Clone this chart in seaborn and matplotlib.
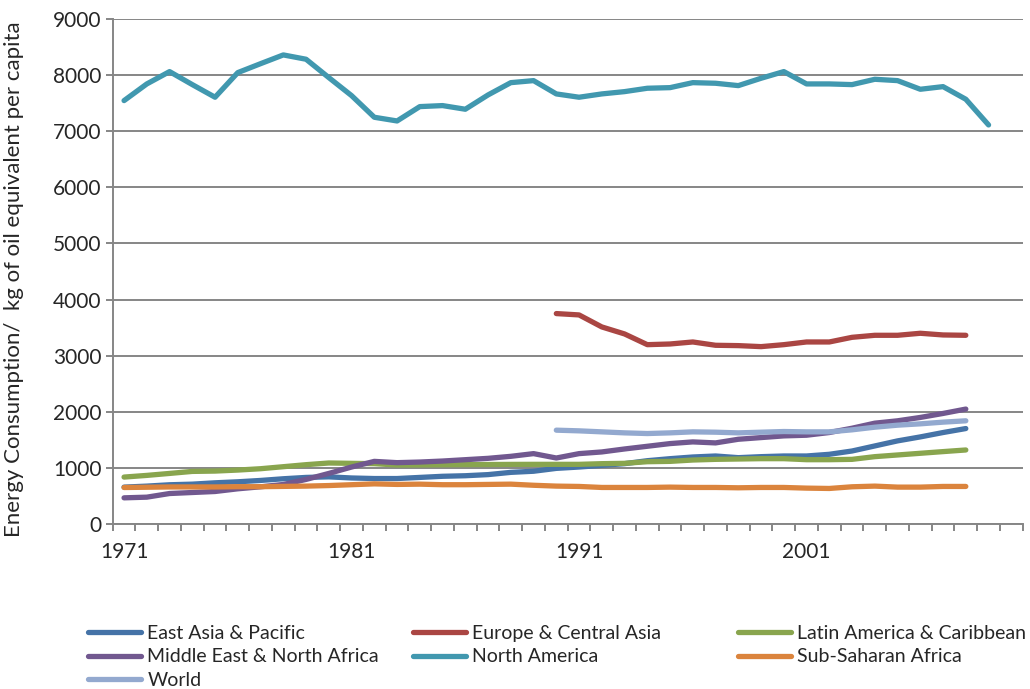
import numpy as np
import pandas as pd
import matplotlib
matplotlib.use("Agg")
import matplotlib.pyplot as plt
import seaborn as sns

years = list(range(1971, 2010))

# values, kg of oil equivalent per capita (None = no data)
east_asia = [657, 675, 699, 710, 734, 752, 776, 806, 830, 840, 820, 810, 810, 830, 850,
             860, 880, 920, 940, 991, 1015, 1045, 1075, 1128, 1164, 1194, 1212, 1182, 1200,
             1212, 1212, 1242, 1301, 1391, 1481, 1552, 1630, 1701, None]
europe_central_asia = [None] * 19 + [3750, 3726, 3512, 3387, 3196, 3208, 3244, 3185, 3179,
                                     3161, 3196, 3244, 3244, 3327, 3363, 3363, 3399, 3369,
                                     3363, None]
latin_america = [836, 866, 901, 937, 943, 961, 985, 1021, 1057, 1087, 1081, 1075, 1051, 1052,
                 1055, 1058, 1060, 1062, 1063, 1063, 1063, 1075, 1081, 1110, 1116, 1140, 1152,
                 1158, 1164, 1164, 1146, 1146, 1152, 1200, 1230, 1260, 1290, 1319, None]
middle_east = [466, 478, 543, 561, 579, 627, 663, 704, 794, 901, 1015, 1116, 1093, 1104, 1122,
               1146, 1170, 1206, 1254, 1176, 1254, 1284, 1337, 1385, 1433, 1463, 1445, 1510,
               1540, 1570, 1582, 1630, 1707, 1797, 1839, 1899, 1970, 2048, None]
north_america = [7546, 7843, 8063, 7831, 7606, 8045, 8204, 8360, 8283, 7956, 7635, 7249, 7183,
                 7439, 7457, 7392, 7647, 7866, 7902, 7665, 7606, 7665, 7706, 7766, 7777, 7866,
                 7855, 7813, 7944, 8063, 7843, 7843, 7831, 7926, 7902, 7748, 7795, 7570, 7112]
sub_saharan = [650, 655, 660, 660, 660, 665, 665, 670, 675, 685, 700, 715, 705, 710, 700, 700,
               705, 710, 690, 675, 669, 651, 651, 651, 657, 651, 651, 645, 651, 651, 639, 633,
               663, 675, 657, 657, 669, 669, None]
world = [None] * 19 + [1672, 1660, 1642, 1624, 1612, 1624, 1642, 1636, 1624, 1636, 1648, 1642,
                       1642, 1678, 1725, 1761, 1785, 1815, 1839, None]

regions = ["East Asia & Pacific", "Europe & Central Asia", "Latin America & Caribbean",
           "Middle East & North Africa", "North America", "Sub-Saharan Africa", "World"]
series = [east_asia, europe_central_asia, latin_america, middle_east, north_america,
          sub_saharan, world]
colors = ["#4573A7", "#AA4643", "#89A54E", "#71588F", "#4198AF", "#DB843D", "#93A9CF"]

rows = []
for name, vals in zip(regions, series):
    for yr, v in zip(years, vals):
        if v is not None:
            rows.append((name, yr, v))
df = pd.DataFrame(rows, columns=["region", "year", "value"])

sns.set_style("white")
plt.rcParams["font.family"] = ["Lato", "DejaVu Sans"]

fig = plt.figure(figsize=(10.3, 6.89), dpi=100)
ax = fig.add_axes([0.1094, 0.2395, 0.8835, 0.7329])

sns.lineplot(data=df, x="year", y="value", hue="region", hue_order=regions,
             palette=colors, linewidth=3.8, ax=ax, legend=False, sort=True)

ax.set_xlim(1970.5, 2010.5)
ax.set_ylim(0, 9000)
ax.set_yticks(range(0, 9001, 1000))
ax.yaxis.grid(True, color="#868686", linewidth=1.4)
ax.set_axisbelow(True)

ax.set_xticks([1971, 1981, 1991, 2001])
ax.set_xticks(np.arange(1970.5, 2011, 1), minor=True)
ax.tick_params(axis="x", which="major", length=0, pad=13, labelsize=15)
ax.tick_params(axis="x", which="minor", length=5, width=1.4, color="#868686", direction="out")
ax.tick_params(axis="y", length=5, width=1.4, color="#868686", direction="out", pad=3,
               labelsize=15)
ax.tick_params(bottom=True, left=True, which="both")

for s in ["top", "right"]:
    ax.spines[s].set_visible(False)
for s in ["left", "bottom"]:
    ax.spines[s].set_color("#868686")
    ax.spines[s].set_linewidth(1.4)

ax.set_xlabel("")
ax.set_ylabel("Energy Consumption/  kg of oil equivalent per capita", fontsize=16,
              labelpad=14)
ax.yaxis.set_label_coords(-0.098, 0.485)

# legend: three columns placed like the reference, row-major order
handles = [plt.Line2D([], [], color=c, linewidth=3.8) for c in colors]
col_x = [88, 413, 738]
for ci, cx in enumerate(col_x):
    idx = list(range(ci, len(regions), 3))
    fig.legend([handles[i] for i in idx], [regions[i] for i in idx],
               loc="upper left", bbox_to_anchor=(cx / 1030, 1 - 625 / 689),
               frameon=False, fontsize=14, handlelength=2.7, handletextpad=0.35,
               labelspacing=0.33, borderaxespad=0, borderpad=0)

fig.savefig("out.png", dpi=100)
